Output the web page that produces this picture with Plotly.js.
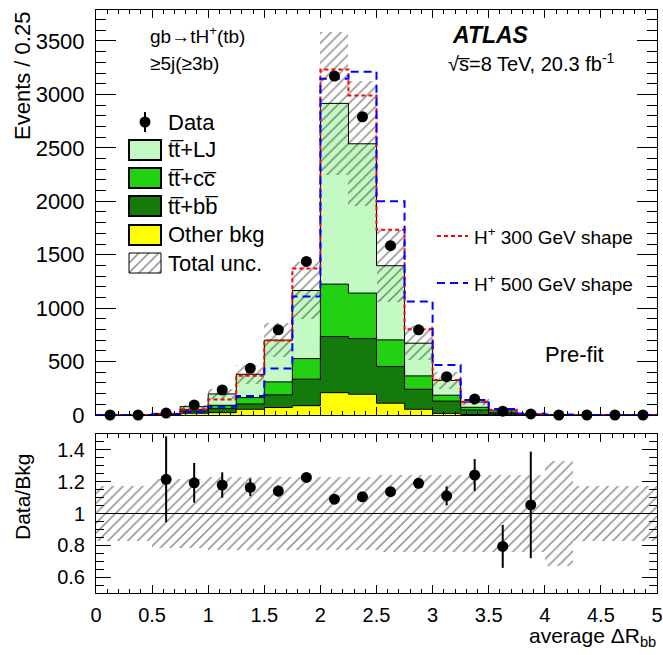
<!DOCTYPE html>
<html><head><meta charset="utf-8">
<script src="https://cdn.plot.ly/plotly-3.0.1.min.js"></script>
<style>html,body{margin:0;padding:0;background:#fff}</style>
</head><body>
<div id="chart" style="width:663px;height:655px"></div>
<script>
// ---- data ----
const binCenters = [0.125,0.375,0.625,0.875,1.125,1.375,1.625,1.875,2.125,2.375,2.625,2.875,3.125,3.375,3.625,3.875,4.125,4.375,4.625,4.875];
const binWidth = 0.25;
const dataCounts = [0,0,18,94,234,437,797,1437,3172,2791,1584,797,359,150,36,10,0,0,0,0];
const otherBkg = [0,0,3,16,22,53,70,87,209,194,110,53,15,4,2,1,0,0,0,0];
const ttbb     = [0,0,4,21,37,50,118,248,525,521,343,188,115,43,16,3,1,0,0,0];
const ttcc     = [0,0,2,13,32,60,122,193,491,426,250,125,55,25,10,2,0.5,0,0,0];
const ttlj     = [0,0,6,28,106,218,390,637,1691,1397,694,306,138,49,17,3,0.5,0,0,0];
const hp300    = [0,0,8,53,145,368,697,1372,3234,2991,1734,803,328,125,50,8,1,0,0,0];
const hp500    = [0,0,6,31,78,178,435,1109,3147,3213,2000,1062,469,141,55,15,4,0,0,0];
const uncRel   = [0.17,0.17,0.22,0.22,0.23,0.23,0.23,0.23,0.23,0.23,0.24,0.24,0.24,0.24,0.24,0.24,0.33,0.17,0.17,0.17];
const ratio    = [null,null,1.215,1.193,1.179,1.164,1.141,1.227,1.090,1.105,1.137,1.190,1.111,1.242,0.793,1.054,null,null,null,null];
const ratioErr = [null,null,0.27,0.125,0.08,0.055,0.035,0.025,0.02,0.02,0.025,0.03,0.06,0.10,0.135,0.335,null,null,null,null];

// ---- geometry helpers ----
const W=663,H=655,L=96,R=6,T=10,B=62;
const pw=W-L-R, ph=H-T-B;
const xp = px => (px-L)/pw;
const yp = py => (H-B-py)/ph;
const FONT = 'Liberation Sans, Arial, Helvetica, sans-serif';

const edges = binCenters.map(c=>c-binWidth/2).concat([binCenters[binCenters.length-1]+binWidth/2]);
const ext = a => a.concat([a[a.length-1]]);

const comps = [
  {y: otherBkg, color:'#ffff00'},
  {y: ttbb, color:'#157a0c'},
  {y: ttcc, color:'#22d212'},
  {y: ttlj, color:'#c3f9c3'}
];
const traces = [];
comps.forEach(c => traces.push({type:'bar', x:binCenters, y:c.y, width:binWidth,
  marker:{color:c.color, line:{width:0}}, xaxis:'x', yaxis:'y', showlegend:false, hoverinfo:'skip'}));

const totalBkg = binCenters.map((_,i)=>otherBkg[i]+ttbb[i]+ttcc[i]+ttlj[i]);
const hatch = {shape:'/', fgcolor:'#1a1a1a', size:7, solidity:0.22, fillmode:'overlay'};
traces.push({type:'bar', x:binCenters, base: totalBkg.map((t,i)=>t*(1-uncRel[i])),
  y: totalBkg.map((t,i)=>2*t*uncRel[i]), width:binWidth,
  marker:{color:'rgba(0,0,0,0)', line:{width:0}, pattern:hatch}, xaxis:'x', yaxis:'y', showlegend:false, hoverinfo:'skip'});

comps.forEach(c => traces.push({type:'scatter', mode:'lines', x:edges, y:ext(c.y), stackgroup:'outl', fill:'none',
  line:{shape:'hv', color:'#000', width:1}, xaxis:'x', yaxis:'y', showlegend:false, hoverinfo:'skip'}));

traces.push({type:'scatter', mode:'lines', x:edges, y:ext(hp300), line:{shape:'hv', color:'#ff0000', width:2, dash:'4px,3px'},
  xaxis:'x', yaxis:'y', showlegend:false, hoverinfo:'skip'});
traces.push({type:'scatter', mode:'lines', x:edges, y:ext(hp500), line:{shape:'hv', color:'#0000ff', width:2, dash:'8px,5px'},
  xaxis:'x', yaxis:'y', showlegend:false, hoverinfo:'skip'});

traces.push({type:'scatter', mode:'markers', x:binCenters, y:dataCounts, marker:{color:'#000', size:11},
  cliponaxis:false, xaxis:'x', yaxis:'y', showlegend:false, hoverinfo:'skip'});

// ratio panel
traces.push({type:'bar', x:binCenters, base: uncRel.map(u=>1-u), y: uncRel.map(u=>2*u), width:binWidth,
  marker:{color:'rgba(0,0,0,0)', line:{width:0}, pattern:hatch}, xaxis:'x2', yaxis:'y2', showlegend:false, hoverinfo:'skip'});
traces.push({type:'scatter', mode:'markers', x:binCenters, y:ratio, marker:{color:'#000', size:11},
  error_y:{type:'data', array:ratioErr, visible:true, thickness:2, width:0, color:'#000'},
  xaxis:'x2', yaxis:'y2', showlegend:false, hoverinfo:'skip'});

// legend hatch box (hidden axes)
traces.push({type:'bar', x:[0.5], y:[1], width:1, marker:{color:'rgba(0,0,0,0)', line:{width:0}, pattern:hatch},
  xaxis:'x3', yaxis:'y3', showlegend:false, hoverinfo:'skip'});

const axBase = {showline:true, linecolor:'#000', linewidth:1, mirror:'ticks', ticks:'inside', tickcolor:'#000',
  showgrid:false, zeroline:false, tickfont:{family:FONT, size:20, color:'#000'}};

const topLow = yp(415), botHigh = yp(434);
const layout = {
  width:W, height:H, margin:{l:L, r:R, t:T, b:B}, paper_bgcolor:'#fff', plot_bgcolor:'rgba(0,0,0,0)',
  barmode:'stack', bargap:0, showlegend:false, font:{family:FONT, color:'#000'},
  xaxis: Object.assign({}, axBase, {domain:[0,1], anchor:'y', range:[0,5], tick0:0, dtick:0.5, ticklen:8,
    showticklabels:false, minor:{ticks:'inside', dtick:0.1, ticklen:4, tickcolor:'#000'}}),
  yaxis: Object.assign({}, axBase, {domain:[topLow,1], anchor:'x', range:[0,3790], tick0:0, dtick:500, ticklen:20,
    tickfont:{family:FONT, size:22, color:'#000'}, ticklabelstandoff:6,
    minor:{ticks:'inside', dtick:100, ticklen:10, tickcolor:'#000'}}),
  xaxis2: Object.assign({}, axBase, {domain:[0,1], anchor:'y2', range:[0,5], tick0:0, dtick:0.5, ticklen:8,
    tickvals:[0,0.5,1,1.5,2,2.5,3,3.5,4,4.5,5], ticktext:['0','0.5','1','1.5','2','2.5','3','3.5','4','4.5','5'],
    ticklabelstandoff:4, minor:{ticks:'inside', dtick:0.1, tick0:0, ticklen:4, tickcolor:'#000'}}),
  yaxis2: Object.assign({}, axBase, {domain:[0,botHigh], anchor:'x2', range:[0.5,1.5],
    tickvals:[0.6,0.8,1,1.2,1.4], ticktext:['0.6','0.8','1','1.2','1.4'], ticklen:15, ticklabelstandoff:6,
    minor:{ticks:'inside', dtick:0.05, tick0:0.5, ticklen:8, tickcolor:'#000'}}),
  xaxis3: {domain:[xp(129), xp(161)], anchor:'y3', range:[0,1], visible:false, fixedrange:true},
  yaxis3: {domain:[yp(273), yp(253)], anchor:'x3', range:[0,1], visible:false, fixedrange:true},
  shapes: [],
  annotations: []
};

// ratio reference line
layout.shapes.push({type:'line', xref:'x2 domain', x0:0, x1:1, yref:'y2', y0:1, y1:1, line:{color:'#000', width:1}, layer:'above'});

// legend boxes
const legendRows = [
  {py:150, color:'#c3f9c3', text:'tt\u0305+LJ'},
  {py:178, color:'#22d212', text:'tt\u0305+cc\u0305'},
  {py:206, color:'#157a0c', text:'tt\u0305+bb\u0305'},
  {py:235, color:'#ffff00', text:'Other bkg'},
  {py:263, color:null, text:'Total unc.'}
];
legendRows.forEach(r => {
  layout.shapes.push({type:'rect', xref:'paper', yref:'paper', x0:xp(129), x1:xp(161), y0:yp(r.py+10), y1:yp(r.py-10),
    fillcolor: r.color || 'rgba(0,0,0,0)', line:{color:'#000', width: r.color ? 2 : 1}, layer:'above'});
  layout.annotations.push({xref:'paper', yref:'paper', x:xp(166), y:yp(r.py), xanchor:'left', yanchor:'middle',
    text:r.text, showarrow:false, font:{family:FONT, size:22, color:'#000'}});
});
// data legend
layout.shapes.push({type:'line', xref:'paper', yref:'paper', x0:xp(145), x1:xp(145), y0:yp(112), y1:yp(132), line:{color:'#000', width:2}});
layout.shapes.push({type:'circle', xref:'paper', yref:'paper', x0:xp(139.5), x1:xp(150.5), y0:yp(127.5), y1:yp(116.5), fillcolor:'#000', line:{color:'#000', width:0}});
layout.annotations.push({xref:'paper', yref:'paper', x:xp(166), y:yp(122), xanchor:'left', yanchor:'middle',
  text:'Data', showarrow:false, font:{family:FONT, size:22, color:'#000'}});
// signal legend
layout.shapes.push({type:'line', xref:'paper', yref:'paper', x0:xp(437), x1:xp(468), y0:yp(236), y1:yp(236), line:{color:'#ff0000', width:2, dash:'4px,3px'}});
layout.shapes.push({type:'line', xref:'paper', yref:'paper', x0:xp(437), x1:xp(468), y0:yp(283), y1:yp(283), line:{color:'#0000ff', width:2, dash:'8px,5px'}});
layout.annotations.push({xref:'paper', yref:'paper', x:xp(472), y:yp(236), xanchor:'left', yanchor:'middle',
  text:'H<sup>+</sup> 300 GeV shape', showarrow:false, font:{family:FONT, size:19, color:'#000'}});
layout.annotations.push({xref:'paper', yref:'paper', x:xp(472), y:yp(283), xanchor:'left', yanchor:'middle',
  text:'H<sup>+</sup> 500 GeV shape', showarrow:false, font:{family:FONT, size:19, color:'#000'}});

// text labels
const ann = (px, py, text, size, extra) => layout.annotations.push(Object.assign({xref:'paper', yref:'paper', x:xp(px), y:yp(py),
  xanchor:'left', yanchor:'middle', text:text, showarrow:false, font:{family:FONT, size:size, color:'#000'}}, extra||{}));
ann(148, 35, 'gb\u2192tH<sup>+</sup>(tb)', 19);
ann(148, 63, '\u22655j(\u22653b)', 19);
ann(450, 35, '<b><i>ATLAS</i></b>', 23);
ann(446, 62, '\u221As\u0305=8 TeV, 20.3 fb<sup>-1</sup>', 20);
ann(543, 354, 'Pre-fit', 22);
ann(22, 10, 'Events / 0.25', 22, {xanchor:'center', yanchor:'top', textangle:-90});
ann(22, 497, 'Data/Bkg', 21, {xanchor:'center', yanchor:'middle', textangle:-90});
ann(658, 637, 'average \u0394R<sub>bb</sub>', 21, {xanchor:'right'});

Plotly.newPlot('chart', traces, layout, {staticPlot:true, displayModeBar:false});
</script>
</body></html>
